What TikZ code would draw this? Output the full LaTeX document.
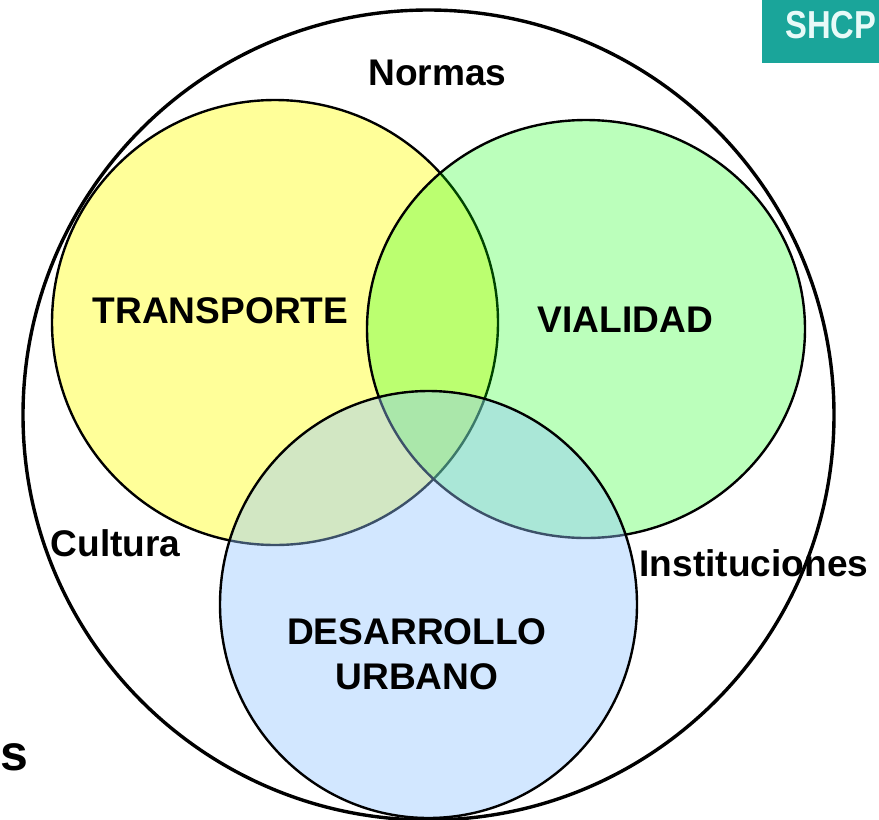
\documentclass[tikz,border=0pt]{standalone}
\usepackage{graphicx}
\usepackage{fontspec}
\setmainfont{Liberation Sans}
\usetikzlibrary{shapes.geometric}
\definecolor{venyellow}{HTML}{FFFF99}
\definecolor{vengreen}{RGB}{0,255,0}
\definecolor{venblue}{RGB}{147,197,255}
\definecolor{shcpteal}{HTML}{1AA59A}
\definecolor{shcptext}{HTML}{E8FAF8}
\tikzset{
  set/.style={shape=ellipse,draw=black,line width=2.4pt,inner sep=0pt},
  lbl/.style={font=\fontsize{37.1}{45.5}\selectfont\bfseries,text=black,inner sep=0pt,align=center},
}
\begin{document}
\begin{tikzpicture}[x=1pt,y=-1pt]
\useasboundingbox (0,0) rectangle (879,820);
\clip (0,0) rectangle (879,820);
\fill[white] (0,0) rectangle (879,820);
\node[fill=shcpteal,inner sep=0pt,minimum width=117pt,minimum height=63pt,anchor=north west] (logo) at (762,0) {};
\node[font=\fontsize{39}{40}\selectfont\bfseries,text=shcptext,inner sep=0pt,anchor=base west] (logotext) at (785,38.5) {\scalebox{0.84}[1]{SHCP}};
\node[set,line width=3.4pt,minimum width=811pt,minimum height=810pt,fill=white] (outer) at (428.5,415) {};
\node[set,fill=venyellow,minimum width=446pt,minimum height=445pt] (transporte) at (275,322.5) {};
\node[set,fill=vengreen,fill opacity=0.267,minimum width=438pt,minimum height=418pt] (vialidad) at (586,329) {};
\node[set,fill=venblue,fill opacity=0.41,minimum width=417pt,minimum height=427pt] (desarrollo) at (428.5,604.5) {};
\node[lbl] (normas) at (437.5,72.5) {Normas};
\node[lbl] (ttransporte) at (220.5,311) {TRANSPORTE};
\node[lbl] (tvialidad) at (625.5,320) {VIALIDAD};
\node[lbl] (tdesarrollo) at (417,654) {DESARROLLO\\URBANO};
\node[lbl] (cultura) at (115.5,543) {Cultura};
\node[lbl] (instituciones) at (754,563) {Instituciones};
\node[lbl,font=\fontsize{50}{50}\selectfont\bfseries,anchor=base west] (frag) at (0,770) {s};
\end{tikzpicture}
\end{document}
